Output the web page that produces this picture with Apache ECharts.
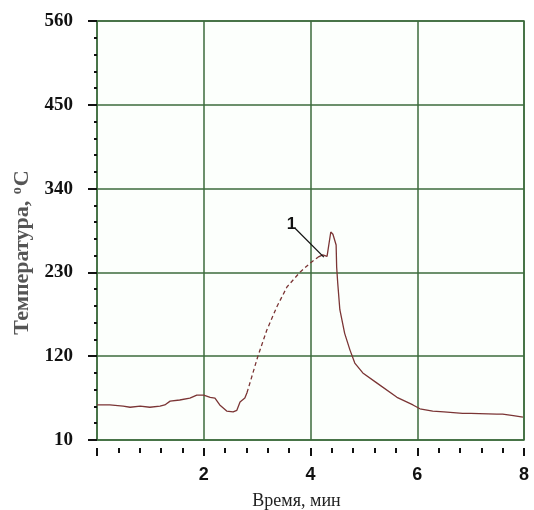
<!DOCTYPE html>
<html>
<head>
<meta charset="utf-8">
<script src="https://cdn.jsdelivr.net/npm/echarts@6/dist/echarts.min.js"></script>
<style>
    html, body { margin: 0; padding: 0; background: #fff; }
    #chart { width: 534px; height: 510px; }
</style>
</head>
<body>
<div id="chart"></div>
<script>
// время, мин
const timeMin = [0, 0.24, 0.49, 0.62, 0.81, 0.99, 1.18, 1.27, 1.37, 1.55, 1.74, 1.87, 2.0, 2.12, 2.21, 2.30, 2.43, 2.55, 2.62, 2.68, 2.77, 2.81,
    2.87, 3.01, 3.18, 3.37, 3.56, 3.80, 3.99, 4.14,
    4.23, 4.31, 4.38, 4.42, 4.48, 4.49, 4.51, 4.55, 4.64, 4.74, 4.83, 4.98, 5.24, 5.62, 5.92, 6.05, 6.29, 6.5, 6.85, 7.0, 7.49, 7.6, 7.8, 7.98];
// температура, oC
const tempC = [56, 56, 54.6, 53, 54.6, 53, 54.6, 56, 61, 62.5, 65, 69, 69, 66, 65, 56, 48, 47, 49, 60, 65, 72,
    86, 119, 154, 185, 211, 230, 242, 250,
    253, 251, 283, 280, 266, 237, 216, 181, 150, 128, 111, 98, 85, 66, 56, 51, 48, 47, 45, 45, 44, 44, 42, 40];
// участок быстрого нагрева (пунктир)
const riseStart = 21;
const riseEnd = 29;
// метка "1"
const markFrom = [3.71, 288];
const markTo = [4.25, 250];
const yTicks = [10, 120, 230, 340, 450, 560];
const xLabels = ['', '2', '4', '6', '8'];

const pts = timeMin.map((t, i) => [t, tempC[i]]);
const solid1 = pts.slice(0, riseStart + 1);
const rise = pts.slice(riseStart, riseEnd + 1);
const solid2 = pts.slice(riseEnd);

const green = '#3d6b3d';
const curve = '#7b3535';

const chart = echarts.init(document.getElementById('chart'));
chart.setOption({
    animation: false,
    backgroundColor: '#fff',
    grid: {
        left: 97, right: 10, top: 21, bottom: 70,
        outerBoundsMode: 'none',
        containLabel: false,
        show: true,
        backgroundColor: '#fcfffc',
        borderColor: green,
        borderWidth: 1.5
    },
    xAxis: {
        type: 'value',
        min: 0, max: 8, interval: 2,
        offset: 8,
        axisLine: { show: false },
        axisTick: { show: true, length: 8, lineStyle: { color: '#111', width: 2 } },
        minorTick: { show: true, splitNumber: 5, length: 5, lineStyle: { color: '#111', width: 2 } },
        splitLine: { show: true, lineStyle: { color: green, width: 1.5 } },
        axisLabel: {
            margin: 18,
            formatter: (v) => xLabels[Math.round(v / 2)],
            color: '#111',
            fontFamily: 'Liberation Sans',
            fontWeight: 'bold',
            fontSize: 18
        },
        name: 'Время, мин',
        nameLocation: 'middle',
        nameGap: 44,
        nameTextStyle: {
            color: '#222',
            fontFamily: 'Liberation Serif',
            fontSize: 18,
            padding: [0, 28, 0, 0]
        }
    },
    yAxis: {
        type: 'value',
        min: yTicks[0], max: yTicks[yTicks.length - 1], interval: 110,
        offset: 7,
        axisLine: { show: false },
        axisTick: { show: true, length: 9, lineStyle: { color: '#111', width: 2 } },
        minorTick: { show: true, splitNumber: 5, length: 3, lineStyle: { color: '#111', width: 2 } },
        splitLine: { show: true, lineStyle: { color: green, width: 1.5 } },
        axisLabel: {
            margin: 17,
            color: '#111',
            fontFamily: 'Liberation Serif',
            fontWeight: 'bold',
            fontSize: 19
        },
        name: '{t|Температура, }{s|o}{t|C}',
        nameLocation: 'middle',
        nameGap: 52,
        nameRotate: 90,
        nameTextStyle: {
            padding: [0, 44, 0, 0],
            rich: {
                t: { color: '#555', fontFamily: 'Liberation Serif', fontWeight: 'bold', fontSize: 22 },
                s: { color: '#555', fontFamily: 'Liberation Serif', fontWeight: 'bold', fontSize: 14, verticalAlign: 'top', padding: [0, 1, 10, 1] }
            }
        }
    },
    series: [
        {
            type: 'line', data: solid1, showSymbol: false,
            lineStyle: { color: curve, width: 1.3 }
        },
        {
            type: 'line', data: rise, showSymbol: false,
            lineStyle: { color: curve, width: 1.3, type: [4, 3] }
        },
        {
            type: 'line', data: solid2, showSymbol: false,
            lineStyle: { color: curve, width: 1.3 },
            markLine: {
                silent: true,
                symbol: ['none', 'none'],
                lineStyle: { color: '#111', width: 1.2, type: 'solid' },
                label: {
                    show: true,
                    position: 'start',
                    formatter: '1',
                    color: '#111',
                    fontFamily: 'Liberation Sans',
                    fontWeight: 'bold',
                    fontSize: 17
                },
                data: [[{ coord: markFrom }, { coord: markTo }]]
            }
        }
    ]
});
</script>
</body>
</html>
